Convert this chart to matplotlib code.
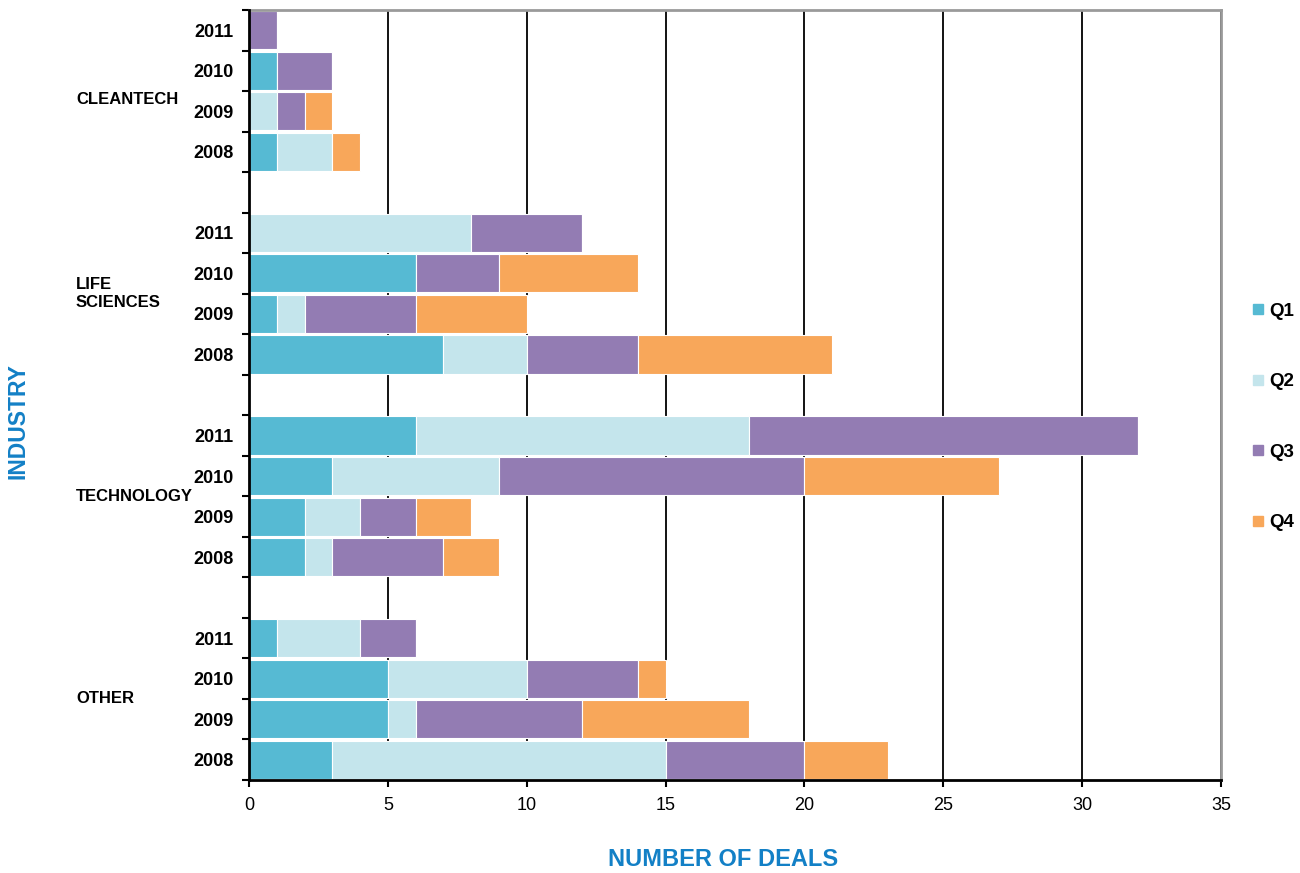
import numpy as np
import matplotlib
matplotlib.use("Agg")
import matplotlib.pyplot as plt
from matplotlib.lines import Line2D
from matplotlib.transforms import blended_transform_factory

plt.rcParams['font.family'] = ['Liberation Sans', 'DejaVu Sans']

# Deals per quarter, one row per industry, years listed 2011 -> 2008
industries = ['CLEANTECH', 'LIFE\nSCIENCES', 'TECHNOLOGY', 'OTHER']
years = ['2011', '2010', '2009', '2008']
quarters = ['Q1', 'Q2', 'Q3', 'Q4']

q1 = [[0, 1, 0, 1], [0, 6, 1, 7], [6, 3, 2, 2], [1, 5, 5, 3]]
q2 = [[0, 0, 1, 2], [8, 0, 1, 3], [12, 6, 2, 1], [3, 5, 1, 12]]
q3 = [[1, 2, 1, 0], [4, 3, 4, 4], [14, 11, 2, 4], [2, 4, 6, 5]]
q4 = [[0, 0, 1, 1], [0, 5, 4, 7], [0, 7, 2, 2], [0, 1, 6, 3]]

colors = ['#56bad3', '#c4e5ec', '#937cb3', '#f8a75a']
blue = '#1380c6'

fig = plt.figure(figsize=(13, 8.73), dpi=100)
W, H = 1300, 873
ax = fig.add_axes([249 / W, 1 - 780 / H, (1221 - 249) / W, 770 / H])

# each industry takes 4 rows plus one empty row as a spacer
slots_per_group = len(years) + 1
n_slots = slots_per_group * len(industries) - 1
centers, labels = [], []
for g in range(len(industries)):
    for k in range(len(years)):
        centers.append(g * slots_per_group + k + 0.5)
        labels.append(years[k])
centers = np.array(centers)

series = [np.array(q).ravel() for q in (q1, q2, q3, q4)]
left = np.zeros(len(centers))
for vals, c in zip(series, colors):
    ax.barh(centers, vals, left=left, height=0.94, color=c,
            edgecolor='white', linewidth=0.8, zorder=2)
    left += vals

ax.set_xlim(0, 35)
ax.set_ylim(n_slots, 0)
ax.set_xticks(np.arange(0, 36, 5))
ax.tick_params(axis='x', direction='out', length=5, width=1.5, pad=7,
               labelsize=13, colors='black')
ax.grid(axis='x', color='black', linewidth=1.3)
ax.set_axisbelow(True)

# tick marks between rows, year labels in the middle of each bar
ax.set_yticks(np.arange(0, n_slots + 1))
ax.set_yticklabels([])
ax.tick_params(axis='y', which='major', direction='out', length=5, width=1.5)
ax.set_yticks(centers, minor=True)
ax.set_yticklabels(labels, minor=True, fontsize=13, fontweight='bold')
ax.tick_params(axis='y', which='minor', length=0, pad=11)

for side in ('left', 'bottom'):
    ax.spines[side].set_color('black')
    ax.spines[side].set_linewidth(2)
    ax.spines[side].set_zorder(4)
for side in ('top', 'right'):
    ax.spines[side].set_color('#9a9a9a')
    ax.spines[side].set_linewidth(2)

# industry names to the left of the year labels
trans = blended_transform_factory(fig.transFigure, ax.transData)
group_y = [2.2, 7.0, 12.0, 17.0]
for name, y in zip(industries, group_y):
    ax.text(76 / W, y, name, transform=trans, ha='left', va='center',
            fontsize=12, fontweight='bold', linespacing=1.25)

fig.text(723 / W, 1 - 860 / H, 'NUMBER OF DEALS', ha='center', va='center',
         fontsize=17, fontweight='bold', color=blue)
fig.text(18 / W, 1 - 421 / H, 'INDUSTRY', ha='center', va='center',
         rotation=90, fontsize=16.5, fontweight='bold', color=blue)

handles = [Line2D([], [], marker='s', linestyle='none', markersize=7.5,
                  markerfacecolor=c, markeredgecolor=c) for c in colors]
fig.legend(handles, quarters, loc='center left',
           bbox_to_anchor=(1250 / W, 1 - 417 / H), frameon=False,
           prop={'size': 13.5, 'weight': 'bold'}, labelspacing=2.85,
           handlelength=0.8, handletextpad=0.25, borderpad=0,
           borderaxespad=0)

fig.savefig('out.png', dpi=100)
